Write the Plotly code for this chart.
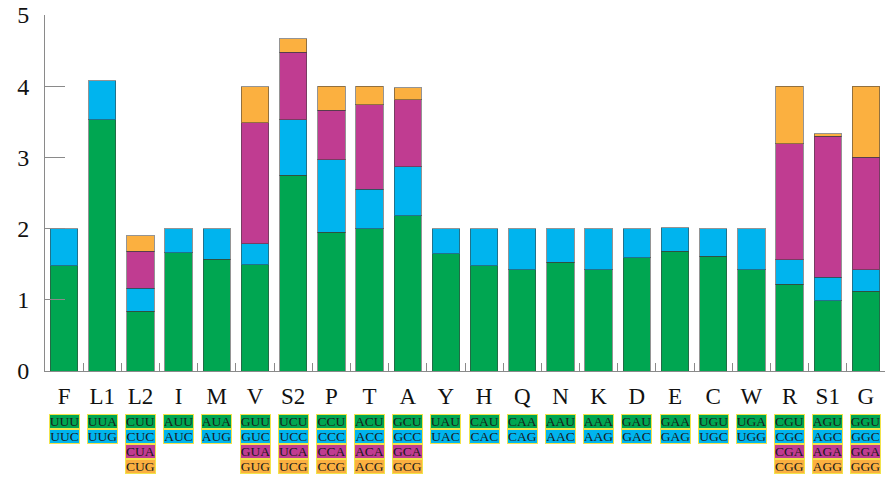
import plotly.graph_objects as go

categories = ["F", "L1", "L2", "I", "M", "V", "S2", "P", "T", "A", "Y", "H",
              "Q", "N", "K", "D", "E", "C", "W", "R", "S1", "G"]

codon1 = [1.48, 3.53, 0.84, 1.66, 1.57, 1.49, 2.75, 1.95, 2.00, 2.18, 1.65, 1.48,
          1.42, 1.53, 1.42, 1.59, 1.68, 1.61, 1.42, 1.22, 0.99, 1.12]
codon2 = [0.52, 0.55, 0.32, 0.34, 0.43, 0.30, 0.78, 1.02, 0.55, 0.69, 0.35, 0.52,
          0.58, 0.47, 0.58, 0.41, 0.33, 0.39, 0.58, 0.34, 0.33, 0.30]
codon3 = [None, None, 0.52, None, None, 1.70, 0.95, 0.69, 1.19, 0.94, None, None,
          None, None, None, None, None, None, None, 1.63, 1.98, 1.58]
codon4 = [None, None, 0.22, None, None, 0.50, 0.19, 0.34, 0.26, 0.17, None, None,
          None, None, None, None, None, None, None, 0.81, 0.03, 1.00]

codons = [
    ["UUU", "UUC"], ["UUA", "UUG"], ["CUU", "CUC", "CUA", "CUG"], ["AUU", "AUC"],
    ["AUA", "AUG"], ["GUU", "GUC", "GUA", "GUG"], ["UCU", "UCC", "UCA", "UCG"],
    ["CCU", "CCC", "CCA", "CCG"], ["ACU", "ACC", "ACA", "ACG"],
    ["GCU", "GCC", "GCA", "GCG"], ["UAU", "UAC"], ["CAU", "CAC"], ["CAA", "CAG"],
    ["AAU", "AAC"], ["AAA", "AAG"], ["GAU", "GAC"], ["GAA", "GAG"], ["UGU", "UGC"],
    ["UGA", "UGG"], ["CGU", "CGC", "CGA", "CGG"], ["AGU", "AGC", "AGA", "AGG"],
    ["GGU", "GGC", "GGA", "GGG"],
]

y_ticks = [0, 1, 2, 3, 4, 5]

colors = ["#00A651", "#00B4EE", "#C03C91", "#FBB040"]
series = [codon1, codon2, codon3, codon4]

SERIF = "Liberation Serif, Times New Roman, serif"

fig = go.Figure()
for vals, col in zip(series, colors):
    fig.add_trace(go.Bar(
        x=categories, y=vals,
        marker=dict(color=col, line=dict(color="rgba(60,60,60,0.55)", width=1)),
        showlegend=False, hoverinfo="skip",
    ))

annotations = []
for cat, cl in zip(categories, codons):
    for i, c in enumerate(cl):
        annotations.append(dict(
            x=cat, xref="x", y=0, yref="paper", yanchor="top",
            yshift=-42.5 - 15 * i,
            text=c, showarrow=False,
            font=dict(family=SERIF, size=13.5, color="#1a1a1a"),
            bgcolor=colors[i], bordercolor="#F2E34A", borderwidth=1, borderpad=0,
            width=29, height=13,
        ))

fig.update_layout(
    width=885, height=477,
    margin=dict(l=44.5, r=0, t=14.7, b=106, pad=0),
    barmode="stack", bargap=0.285,
    plot_bgcolor="white", paper_bgcolor="white",
    annotations=annotations,
    font=dict(family=SERIF, color="#111"),
)
fig.update_xaxes(
    type="category", showline=True, linecolor="#8a8a8a", linewidth=1,
    ticks="inside", tickson="boundaries", ticklen=8, tickcolor="#8a8a8a",
    tickfont=dict(family=SERIF, size=23, color="#111"), ticklabelstandoff=4,
    showgrid=False, zeroline=False, range=[-0.5, 21.5],
)
fig.update_yaxes(
    range=[0, 5], tickvals=y_ticks, showline=True, linecolor="#8a8a8a", linewidth=1,
    ticks="inside", ticklen=20, tickcolor="#8a8a8a",
    tickfont=dict(family=SERIF, size=24, color="#111"), ticklabelstandoff=10,
    showgrid=False, zeroline=False,
)

fig.write_html("out.html")
